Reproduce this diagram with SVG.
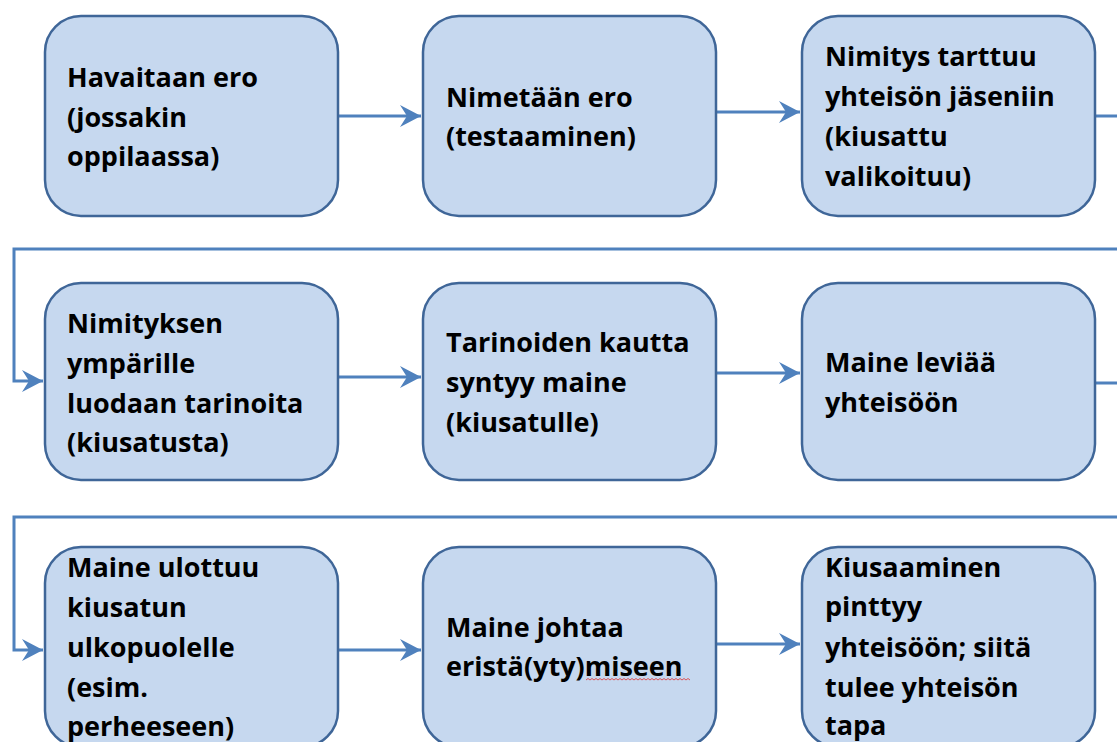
<svg xmlns="http://www.w3.org/2000/svg" width="1117" height="742" viewBox="0 0 1117 742">
<style>
.box{fill:#C6D8EF;stroke:#3F6698;stroke-width:2.5}
.t{font-family:"Open Sans","Liberation Sans",sans-serif;font-weight:700;font-size:27px;fill:#000}
.c{fill:none;stroke:#4F81BD;stroke-width:3}
</style>
<defs>
<marker id="ah" markerUnits="userSpaceOnUse" markerWidth="24" markerHeight="24" viewBox="-22 -12 24 24" refX="0" refY="0" orient="auto">
<path d="M0,0 L-21,-11 L-14,0 L-21,11 Z" fill="#4F81BD"/>
</marker>
</defs>
<g id="connectors">
<path class="c" d="M338,116 H421" marker-end="url(#ah)"/>
<path class="c" d="M716,112 H800" marker-end="url(#ah)"/>
<path class="c" d="M1095,116 H1117"/>
<path class="c" d="M1117,249 H14 V381 H43" marker-end="url(#ah)"/>
<path class="c" d="M338,377 H421" marker-end="url(#ah)"/>
<path class="c" d="M716,373 H800" marker-end="url(#ah)"/>
<path class="c" d="M1095,383 H1117"/>
<path class="c" d="M1117,517 H14 V650 H43" marker-end="url(#ah)"/>
<path class="c" d="M338,650 H421" marker-end="url(#ah)"/>
<path class="c" d="M716,644 H800" marker-end="url(#ah)"/>
</g>
<g id="n1"><rect class="box" x="45" y="16" width="293" height="200" rx="36"/>
<text class="t"><tspan x="67" y="87">Havaitaan ero</tspan><tspan x="67" y="127">(jossakin</tspan><tspan x="67" y="166">oppilaassa)</tspan></text></g>
<g id="n2"><rect class="box" x="423" y="16" width="293" height="200" rx="36"/>
<text class="t"><tspan x="446" y="107">Nimetään ero</tspan><tspan x="446" y="146">(testaaminen)</tspan></text></g>
<g id="n3"><rect class="box" x="802" y="16" width="293" height="200" rx="36"/>
<text class="t"><tspan x="825" y="66">Nimitys tarttuu</tspan><tspan x="825" y="106">yhteisön jäseniin</tspan><tspan x="825" y="146">(kiusattu</tspan><tspan x="825" y="186">valikoituu)</tspan></text></g>
<g id="n4"><rect class="box" x="45" y="283" width="293" height="197" rx="36"/>
<text class="t"><tspan x="67" y="333">Nimityksen</tspan><tspan x="67" y="373">ympärille</tspan><tspan x="67" y="413">luodaan tarinoita</tspan><tspan x="67" y="452">(kiusatusta)</tspan></text></g>
<g id="n5"><rect class="box" x="423" y="283" width="293" height="197" rx="36"/>
<text class="t"><tspan x="446" y="352">Tarinoiden kautta</tspan><tspan x="446" y="392">syntyy maine</tspan><tspan x="446" y="432">(kiusatulle)</tspan></text></g>
<g id="n6"><rect class="box" x="802" y="283" width="293" height="197" rx="36"/>
<text class="t"><tspan x="825" y="372">Maine leviää</tspan><tspan x="825" y="412">yhteisöön</tspan></text></g>
<g id="n7"><rect class="box" x="45" y="547" width="293" height="200" rx="36"/>
<text class="t"><tspan x="67" y="577">Maine ulottuu</tspan><tspan x="67" y="617">kiusatun</tspan><tspan x="67" y="657">ulkopuolelle</tspan><tspan x="67" y="697">(esim.</tspan><tspan x="67" y="736">perheeseen)</tspan></text></g>
<g id="n8"><rect class="box" x="423" y="547" width="293" height="200" rx="36"/>
<text class="t"><tspan x="446" y="637">Maine johtaa</tspan><tspan x="446" y="676">eristä(yty)miseen</tspan></text>
<path d="M586,680 l2,-1.5 l2,1.5 l2,-1.5 l2,1.5 l2,-1.5 l2,1.5 l2,-1.5 l2,1.5 l2,-1.5 l2,1.5 l2,-1.5 l2,1.5 l2,-1.5 l2,1.5 l2,-1.5 l2,1.5 l2,-1.5 l2,1.5 l2,-1.5 l2,1.5 l2,-1.5 l2,1.5 l2,-1.5 l2,1.5 l2,-1.5 l2,1.5 l2,-1.5 l2,1.5 l2,-1.5 l2,1.5 l2,-1.5 l2,1.5 l2,-1.5 l2,1.5 l2,-1.5 l2,1.5 l2,-1.5 l2,1.5 l2,-1.5 l2,1.5 l2,-1.5 l2,1.5 l2,-1.5 l2,1.5 l2,-1.5 l2,1.5 l2,-1.5 l2,1.5 l2,-1.5 l2,1.5 l2,-1.5 l2,1.5" fill="none" stroke="#E03030" stroke-width="0.8"/></g>
<g id="n9"><rect class="box" x="802" y="547" width="293" height="200" rx="36"/>
<text class="t"><tspan x="825" y="577">Kiusaaminen</tspan><tspan x="825" y="616">pinttyy</tspan><tspan x="825" y="657">yhteisöön; siitä</tspan><tspan x="825" y="697">tulee yhteisön</tspan><tspan x="825" y="735">tapa</tspan></text></g>
</svg>
